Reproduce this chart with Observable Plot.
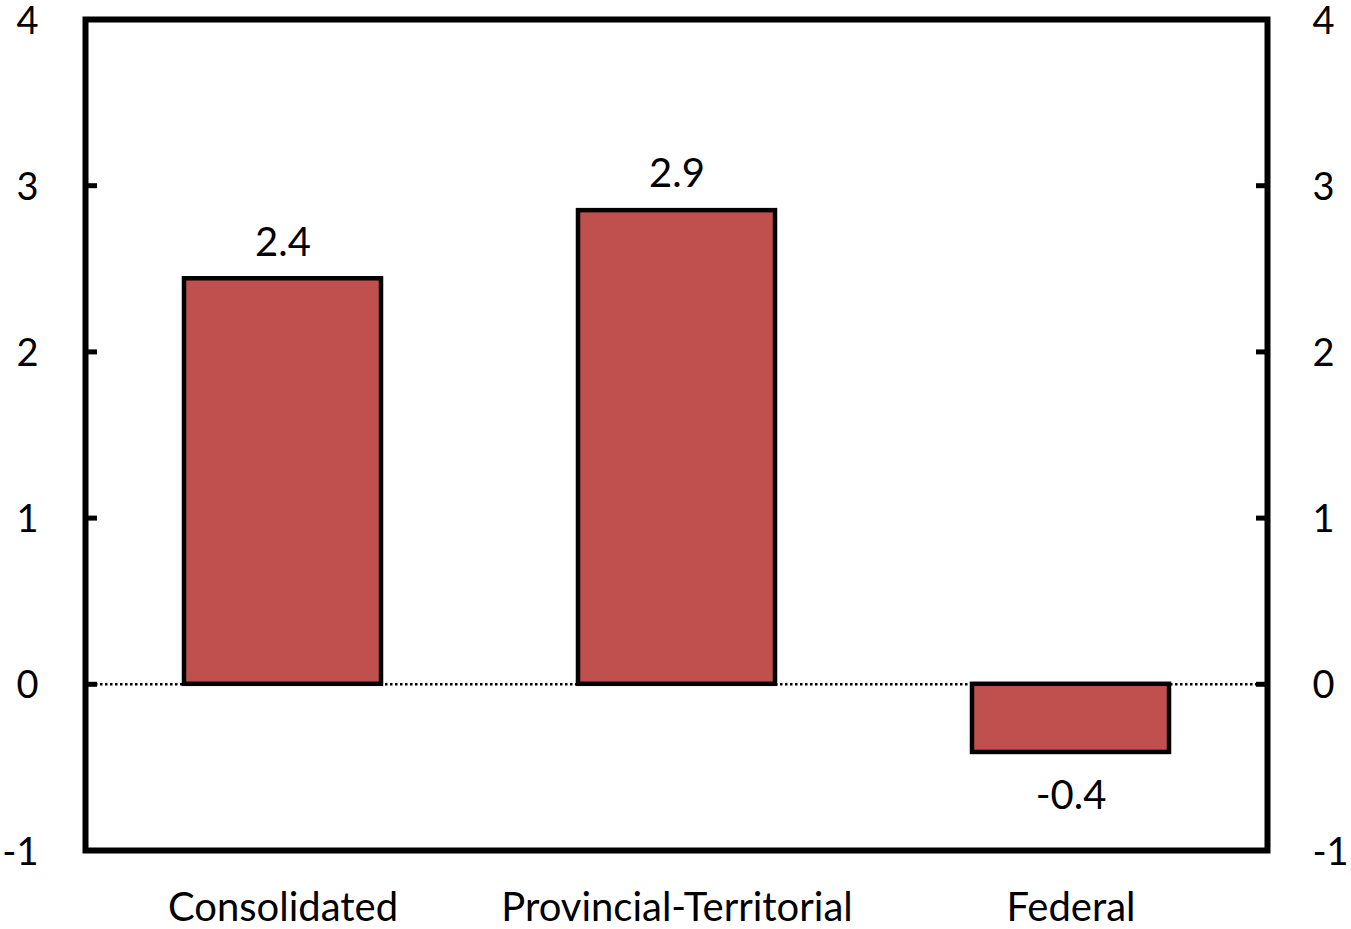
<!DOCTYPE html>
<html>
<head>
<meta charset="utf-8">
<script src="https://cdn.jsdelivr.net/npm/d3@7"></script>
<script src="https://cdn.jsdelivr.net/npm/@observablehq/plot@0.6"></script>
<style>
  html, body { margin: 0; padding: 0; background: #fff; }
  svg { display: block; overflow: visible; }
</style>
</head>
<body>
<div id="chart"></div>
<script>
const categories = ["Consolidated", "Provincial-Territorial", "Federal"];
const values = [2.44, 2.85, -0.41];
const valueLabels = ["2.4", "2.9", "-0.4"];
const yTicks = [-1, 0, 1, 2, 3, 4];
const yTickLabels = ["-1", "0", "1", "2", "3", "4"];

const data = categories.map((c, i) => ({category: c, value: values[i], label: valueLabels[i]}));
const pos = data.filter(d => d.value >= 0);
const neg = data.filter(d => d.value < 0);
const fmt = d => yTickLabels[yTicks.indexOf(d)];

const font = "Lato, 'Open Sans', sans-serif";
const fs = 40;

const chart = Plot.plot({
  width: 1351,
  height: 929,
  marginLeft: 85,
  marginRight: 84,
  marginTop: 19,
  marginBottom: 79,
  style: {fontFamily: font, fontSize: fs + "px", color: "#000", background: "#fff"},
  x: {domain: categories, paddingInner: 0.5, paddingOuter: 0.25, label: null},
  y: {domain: [-1, 4], label: null},
  marks: [
    Plot.ruleY([0], {stroke: "#000", strokeWidth: 2.5, strokeDasharray: "2.5,2.5"}),
    Plot.barY(data, {x: "category", y: "value", fill: "#C0504D", stroke: "#000", strokeWidth: 4.5}),
    Plot.text(pos, {x: "category", y: "value", text: "label", dy: -36, fontSize: fs, fill: "#000"}),
    Plot.text(neg, {x: "category", y: "value", text: "label", dy: 44, fontSize: fs, fill: "#000"}),
    Plot.axisY(yTicks, {anchor: "left", tickSize: 0, tickPadding: 47, fontSize: 38, dy: 2, tickFormat: fmt, label: null}),
    Plot.axisY(yTicks, {anchor: "right", tickSize: 0, tickPadding: 45, fontSize: 38, dy: 2, tickFormat: fmt, label: null, textAnchor: "start"}),
    Plot.axisY(yTicks, {anchor: "left", tickSize: -12, tickFormat: () => "", strokeWidth: 5, label: null}),
    Plot.axisY(yTicks, {anchor: "right", tickSize: -12, tickFormat: () => "", strokeWidth: 5, label: null}),
    Plot.axisX({tickSize: 0, tickPadding: 42, fontSize: fs, label: null}),
    Plot.frame({stroke: "#000", strokeWidth: 6})
  ]
});
document.getElementById("chart").appendChild(chart);
</script>
</body>
</html>
